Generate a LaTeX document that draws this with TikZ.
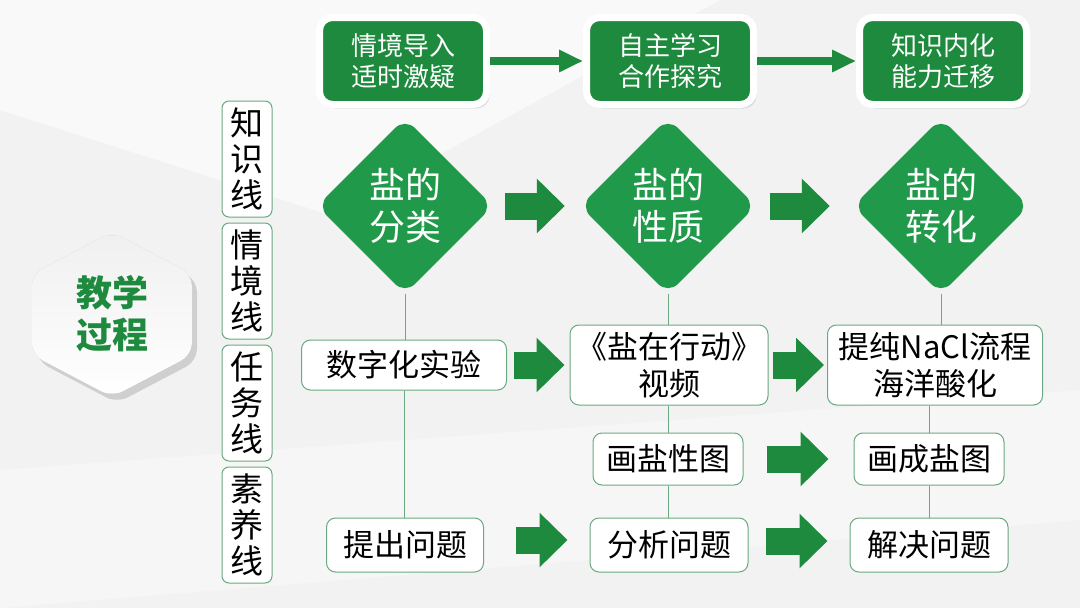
\documentclass[tikz,border=0pt]{standalone}
\usepackage{fontspec}
\setmainfont{Noto Sans CJK SC}
\usetikzlibrary{positioning,shapes.geometric,arrows.meta,shadows,calc}

\definecolor{darkgreen}{HTML}{1E8A3E}
\definecolor{leafgreen}{HTML}{21994A}
\definecolor{linegreen}{HTML}{6AAA80}
\definecolor{bggray}{HTML}{F2F2F2}

\begin{document}
\begin{tikzpicture}[x=1pt,y=-1pt,every node/.append style={align=center},
    stagebox/.style={draw=white, line width=7pt, fill=darkgreen, rounded corners=13pt, minimum width=167pt, minimum height=87pt,
        text=white, font=\fontsize{26}{31}\selectfont, drop shadow={shadow xshift=3pt, shadow yshift=-4pt, opacity=0.22}},
    saltdiamond/.style={diamond, aspect=1, fill=leafgreen, rounded corners=14pt, minimum size=176pt, inner sep=0pt,
        text=white, font=\fontsize{36}{42}\selectfont},
    strandbox/.style={draw=linegreen, fill=white, line width=1pt, rounded corners=7pt, minimum width=50pt, minimum height=116pt,
        inner sep=1pt, font=\fontsize{33}{36}\selectfont},
    taskbox/.style={draw=linegreen, fill=white, line width=1pt, rounded corners=9pt, inner sep=2pt, font=\fontsize{31}{37}\selectfont},
    stagearrow/.style={draw=darkgreen, line width=8pt, -{Triangle[width=21pt,length=24pt]}},
    bigarrow/.style={draw=darkgreen, line width=27pt, -{Triangle[width=53pt,length=28pt]}},
    stem/.style={draw=linegreen, line width=1pt}]

    % background
    \fill[bggray] (0,0) rectangle (1080,608);
    \fill[white,opacity=0.6] (0,0) -- (720,0) -- (330,215) -- (0,110) -- cycle;
    \fill[white,opacity=0.35] (0,470) -- (1080,390) -- (1080,520) -- (0,608) -- cycle;
    \useasboundingbox (0,0) rectangle (1080,608);

    % hexagon on the left
    \coordinate (hexc) at (112,314);
    \begin{scope}[shift={(-14,12)}]
        \fill[black!22, rounded corners=12pt] ($(hexc)+(0,-82)$) -- ($(hexc)+(80,-40)$) -- ($(hexc)+(80,41)$)
            -- ($(hexc)+(0,83)$) -- ($(hexc)+(-80,41)$) -- ($(hexc)+(-80,-40)$) -- cycle;
    \end{scope}
    \path[top color=black!6, bottom color=white, rounded corners=12pt,
          drop shadow={shadow xshift=5pt, shadow yshift=-6pt, opacity=0.3}]
        ($(hexc)+(0,-82)$) -- ($(hexc)+(80,-40)$) -- ($(hexc)+(80,41)$)
        -- ($(hexc)+(0,83)$) -- ($(hexc)+(-80,41)$) -- ($(hexc)+(-80,-40)$) -- cycle;
    \node [text=darkgreen, font=\fontsize{36}{42}\selectfont\bfseries] (process) at (hexc) {教学\\过程};

    % four strands
    \node [strandbox] (knowline) at (247,159) {知\\识\\线};
    \node [strandbox, below=5pt of knowline] (sceneline) {情\\境\\线};
    \node [strandbox, below=5pt of sceneline] (taskline) {任\\务\\线};
    \node [strandbox, below=5pt of taskline] (qualityline) {素\\养\\线};

    % stages
    \node [stagebox] (intro) at (403,61) {情境导入\\适时激疑};
    \node [stagebox] (selfstudy) at (670,61) {自主学习\\合作探究};
    \node [stagebox] (internal) at (943,61) {知识内化\\能力迁移};

    % knowledge
    \node [saltdiamond] (classify) at (405,206) {盐的\\分类};
    \node [saltdiamond] (property) at (668,206) {盐的\\性质};
    \node [saltdiamond] (convert) at (941,206) {盐的\\转化};

    % tasks
    \node [taskbox, minimum width=205pt, minimum height=50pt] (digital) at (404,365) {数字化实验};
    \node [taskbox, minimum width=198pt, minimum height=80pt] (video) at (669,365) {《盐在行动》\\视频};
    \node [taskbox, minimum width=215pt, minimum height=80pt] (purify) at (935,365) {提纯NaCl流程\\海洋酸化};
    \node [taskbox, minimum width=150pt, minimum height=52pt] (drawprop) at (668,459) {画盐性图};
    \node [taskbox, minimum width=150pt, minimum height=52pt] (drawmap) at (929,459) {画成盐图};
    \node [taskbox, minimum width=157pt, minimum height=54pt] (raise) at (405,545) {提出问题};
    \node [taskbox, minimum width=158pt, minimum height=54pt] (analyse) at (669,545) {分析问题};
    \node [taskbox, minimum width=158pt, minimum height=54pt] (solve) at (929,545) {解决问题};

    % stems
    \draw[stem] (classify.south) -- (classify.south |- digital.north)
                (digital.south) -- (digital.south |- raise.north);
    \draw[stem] (property.south) -- (property.south |- video.north)
                (drawprop.north |- video.south) -- (drawprop.north)
                (drawprop.south) -- (drawprop.south |- analyse.north);
    \draw[stem] (convert.south) -- (convert.south |- purify.north)
                (drawmap.north |- purify.south) -- (drawmap.north)
                (drawmap.south) -- (solve.north);

    % arrows
    \draw[stagearrow] (intro) -- (selfstudy);
    \draw[stagearrow] (selfstudy) -- (internal);
    \draw[bigarrow] ([xshift=12pt]classify.east) -- ([xshift=-15pt]property.west);
    \draw[bigarrow] ([xshift=14pt]property.east) -- ([xshift=-23pt]convert.west);
    \draw[bigarrow] ([xshift=7pt]digital.east) -- ([xshift=-5pt]video.west);
    \draw[bigarrow] ([xshift=4pt]video.east) -- ([xshift=-3pt]purify.west);
    \draw[bigarrow] ([xshift=23pt]drawprop.east) -- ([xshift=-25pt]drawmap.west);
    \draw[bigarrow] ([xshift=32pt,yshift=5pt]raise.east) -- ([xshift=-22pt,yshift=5pt]analyse.west);
    \draw[bigarrow] ([xshift=17pt,yshift=4pt]analyse.east) -- ([xshift=-22pt,yshift=4pt]solve.west);
\end{tikzpicture}
\end{document}
